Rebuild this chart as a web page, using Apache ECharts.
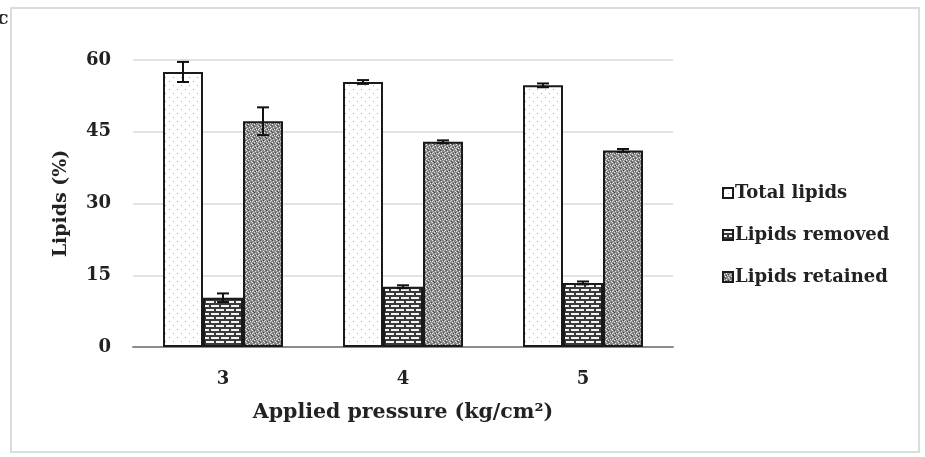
<!DOCTYPE html>
<html>
<head>
<meta charset="utf-8">
<script src="https://cdn.jsdelivr.net/npm/echarts@6/dist/echarts.min.js"></script>
<style>
  html, body { margin: 0; padding: 0; background: #fff; }
  #main { width: 925px; height: 457px; }
</style>
</head>
<body>
<div id="main"></div>
<script>
// data
var categories = ['3', '4', '5'];
var seriesNames = ['Total lipids', 'Lipids removed', 'Lipids retained'];
var totalLipids = [57.5, 55.4, 54.7];
var lipidsRemoved = [10.3, 12.6, 13.4];
var lipidsRetained = [47.2, 42.9, 41.1];
var totalErr = [2.1, 0.4, 0.4];
var removedErr = [0.9, 0.3, 0.3];
var retainedErr = [2.9, 0.3, 0.3];
var yTicks = [0, 15, 30, 45, 60];

var FONT = '"DejaVu Serif", "Liberation Serif", serif';
var BAR_W = 40;

// hatch patterns like the print figure
function dotsPattern() {
    var c = document.createElement('canvas');
    c.width = 8; c.height = 8;
    var g = c.getContext('2d');
    g.fillStyle = '#fff'; g.fillRect(0, 0, 8, 8);
    g.fillStyle = '#a8a8a8';
    g.fillRect(1, 1, 1, 1);
    g.fillRect(5, 5, 1, 1);
    return c;
}
function brickPattern() {
    var c = document.createElement('canvas');
    c.width = 10; c.height = 8;
    var g = c.getContext('2d');
    g.fillStyle = '#3a3a3a'; g.fillRect(0, 0, 10, 8);
    g.fillStyle = '#f4f4f4';
    g.fillRect(1, 1, 8, 2);
    g.fillRect(6, 5, 8, 2);
    g.fillRect(0, 5, 4, 2);
    return c;
}
function speckPattern() {
    var c = document.createElement('canvas');
    c.width = 6; c.height = 6;
    var g = c.getContext('2d');
    g.fillStyle = '#8a8a8a'; g.fillRect(0, 0, 6, 6);
    g.fillStyle = '#e6e6e6';
    var pts = [[0,0],[3,1],[1,2],[4,3],[2,4],[5,5],[0,3]];
    pts.forEach(function (p) { g.fillRect(p[0], p[1], 1, 1); });
    g.fillStyle = '#4a4a4a';
    var pts2 = [[2,0],[5,2],[1,5],[3,3]];
    pts2.forEach(function (p) { g.fillRect(p[0], p[1], 1, 1); });
    return c;
}

var patterns = [dotsPattern(), brickPattern(), speckPattern()];
var values = [totalLipids, lipidsRemoved, lipidsRetained];
var errors = [totalErr, removedErr, retainedErr];

var series = [];
seriesNames.forEach(function (name, i) {
    series.push({
        name: name,
        type: 'bar',
        barWidth: BAR_W,
        barGap: '0%',
        data: values[i],
        itemStyle: {
            color: { image: patterns[i], repeat: 'repeat' },
            borderColor: '#1a1a1a',
            borderWidth: 2
        },
        emphasis: { disabled: true }
    });
});

// error bars
seriesNames.forEach(function (name, i) {
    series.push({
        type: 'custom',
        name: name + ' err',
        z: 10,
        data: values[i].map(function (v, k) { return [k, v - errors[i][k], v + errors[i][k]]; }),
        renderItem: function (params, api) {
            var lo = api.coord([api.value(0), api.value(1)]);
            var hi = api.coord([api.value(0), api.value(2)]);
            var x = lo[0] + (i - 1) * BAR_W;
            var hw = 6;
            var st = { stroke: '#111', lineWidth: 2 };
            return {
                type: 'group',
                children: [
                    { type: 'line', shape: { x1: x, y1: lo[1], x2: x, y2: hi[1] }, style: st },
                    { type: 'line', shape: { x1: x - hw, y1: lo[1], x2: x + hw, y2: lo[1] }, style: st },
                    { type: 'line', shape: { x1: x - hw, y1: hi[1], x2: x + hw, y2: hi[1] }, style: st }
                ]
            };
        }
    });
});

var myChart = echarts.init(document.getElementById('main'));
myChart.setOption({
    backgroundColor: '#fff',
    animation: false,
    textStyle: { fontFamily: FONT },
    graphic: [
        { type: 'rect', shape: { x: 11, y: 8, width: 908, height: 444 },
          style: { fill: 'none', stroke: '#dcdcdc', lineWidth: 2 }, z: -1 },
        { type: 'text', left: -3, top: 10,
          style: { text: 'c', font: 'bold 19px ' + FONT, fill: '#222' } }
    ],
    legend: {
        orient: 'vertical',
        left: 717,
        top: 179,
        itemGap: 24,
        itemWidth: 10,
        itemHeight: 10,
        icon: 'rect',
        data: seriesNames,
        textStyle: { fontFamily: FONT, fontWeight: 'bold', fontSize: 18, color: '#222', padding: [0, 0, 0, -3] }
    },
    grid: { left: 133, right: 252, top: 60, bottom: 110 },
    xAxis: {
        type: 'category',
        data: categories,
        name: 'Applied pressure (kg/cm²)',
        nameLocation: 'middle',
        nameGap: 55,
        nameTextStyle: { fontFamily: FONT, fontWeight: 'bold', fontSize: 20.5, color: '#222' },
        axisLine: { lineStyle: { color: '#8c8c8c', width: 2 } },
        axisTick: { show: false },
        axisLabel: { fontFamily: FONT, fontWeight: 'bold', fontSize: 18, color: '#222', margin: 23 }
    },
    yAxis: {
        type: 'value',
        min: yTicks[0],
        max: yTicks[yTicks.length - 1],
        interval: 15,
        name: 'Lipids (%)',
        nameLocation: 'middle',
        nameGap: 62,
        nameTextStyle: { fontFamily: FONT, fontWeight: 'bold', fontSize: 19, color: '#222' },
        axisLine: { show: false },
        axisTick: { show: false },
        axisLabel: { fontFamily: FONT, fontWeight: 'bold', fontSize: 18, color: '#222', margin: 22 },
        splitLine: { lineStyle: { color: '#e3e3e3', width: 2 } }
    },
    series: series
});
</script>
</body>
</html>
